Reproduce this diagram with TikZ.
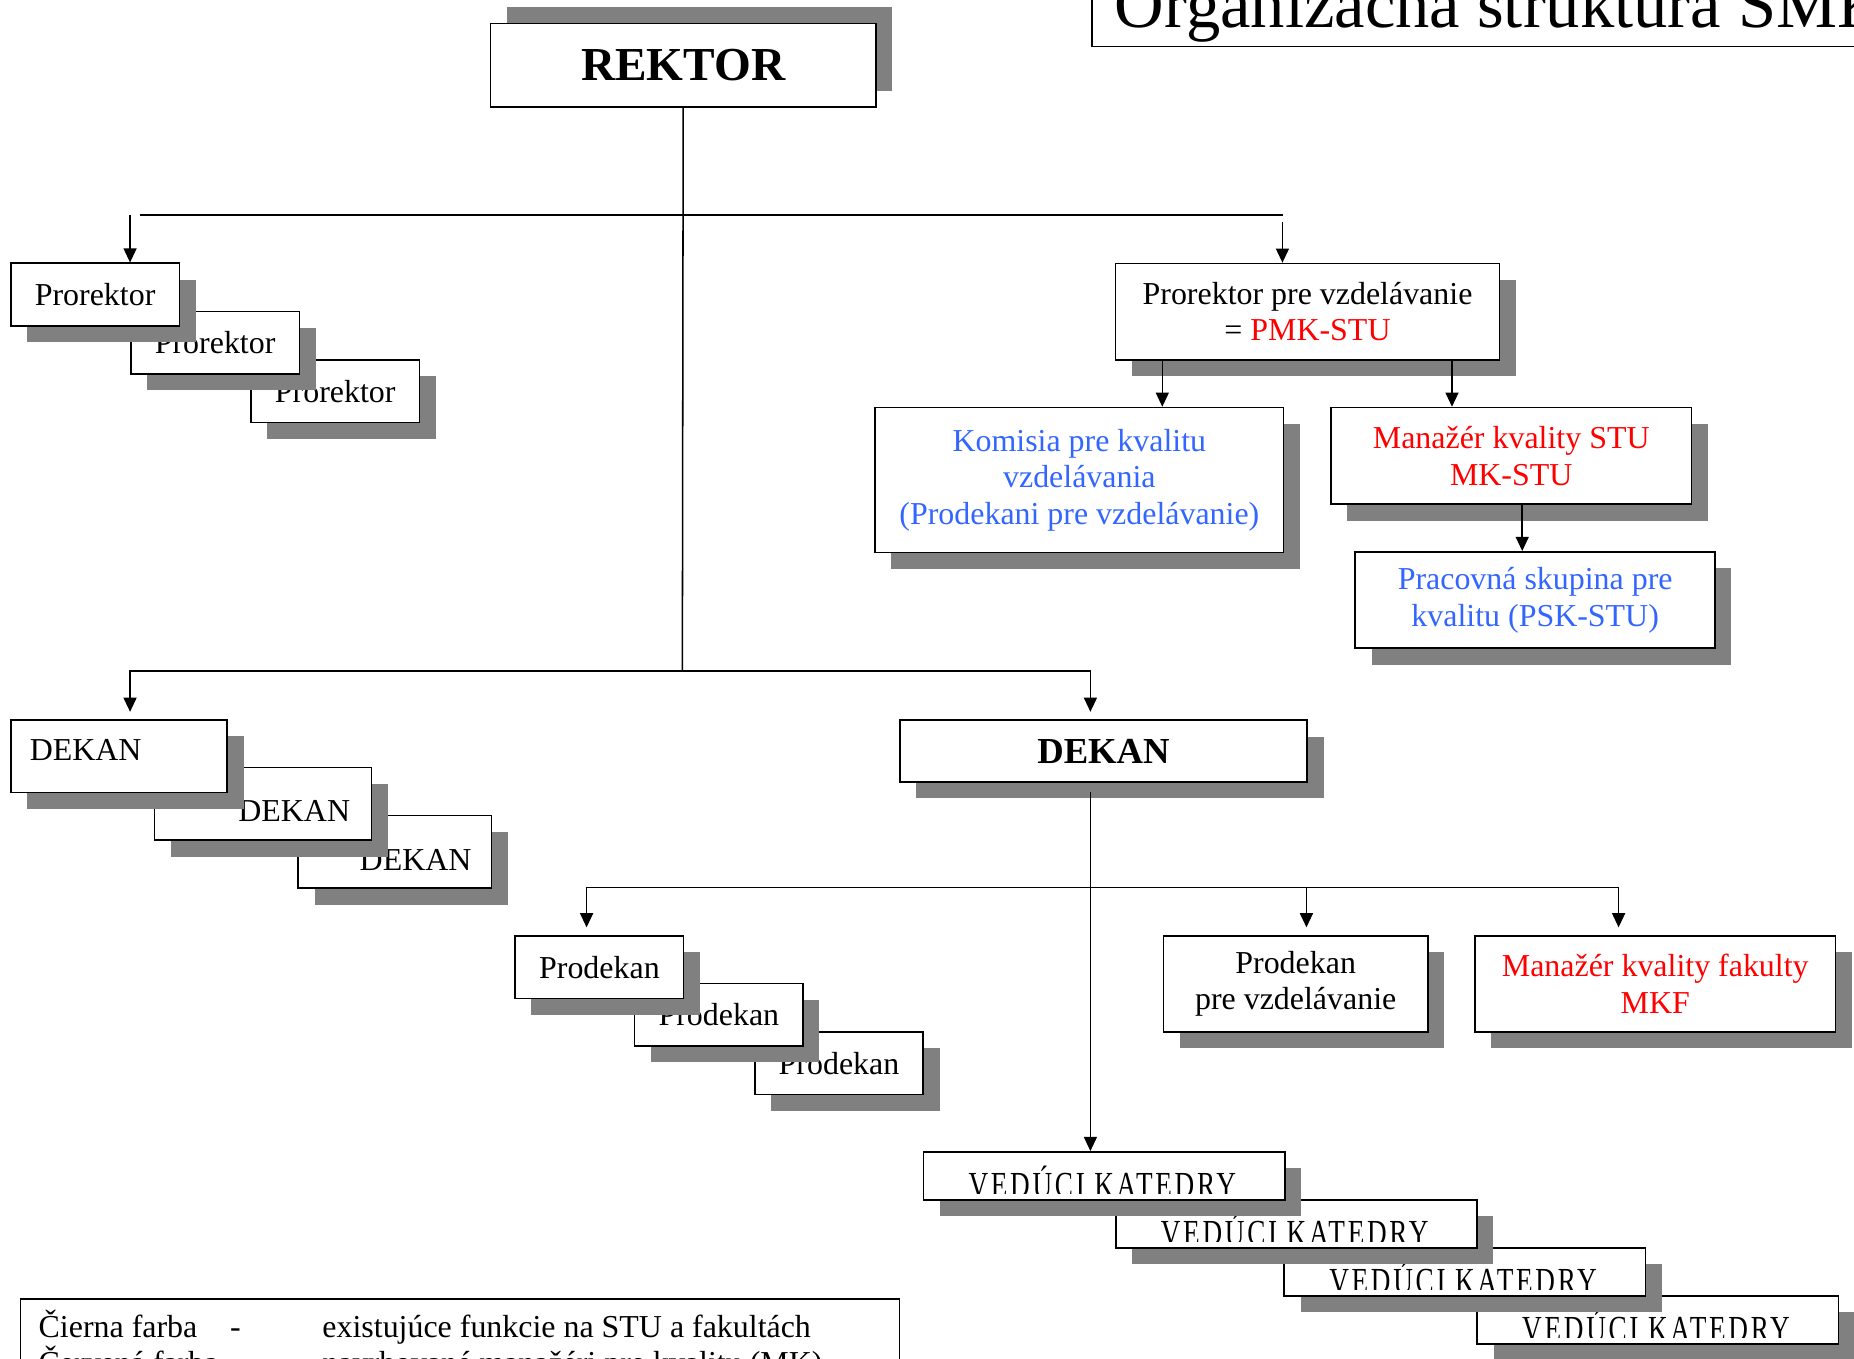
\documentclass[tikz,border=0pt]{standalone}
\usepackage{fontspec}
\setmainfont{Liberation Serif}
\newfontfamily\vkfont[LetterSpace=10]{Liberation Serif}
\usepackage{graphicx}
\usepackage{trimclip}
\usetikzlibrary{arrows.meta, shadows, calc}

\definecolor{shgray}{RGB}{128,128,128}
\definecolor{qblue}{RGB}{51,102,255}
\definecolor{qred}{RGB}{255,0,0}

\newcommand{\nfont}{\fontsize{27}{31}\selectfont}
\newcommand{\vktext}{\clipbox{0pt 3.6pt 0pt 0pt}{\scalebox{1}[1.35]{\vkfont\fontsize{23}{26}\selectfont VEDÚCI KATEDRY}}}

\begin{document}
\begin{tikzpicture}[x=1pt, y=-1pt,
	plain/.style={draw, line width=1.4pt, fill=white, inner sep=0pt, anchor=north west, align=center, font=\nfont},
	box/.style={plain, drop shadow={shadow xshift=13.8pt, shadow yshift=-13.8pt, fill=shgray, opacity=1}},
	upbox/.style={plain, drop shadow={shadow xshift=14pt, shadow yshift=13.6pt, fill=shgray, opacity=1}},
	small/.style={box, minimum width=142.5pt, minimum height=53pt},
	lbl/.style={inner sep=0pt, font=\nfont},
	conn/.style={line width=1.3pt},
	arr/.style={line width=1.3pt, -{Triangle[length=12pt, width=11pt]}}]
			\useasboundingbox (0,0) rectangle (1568,1149);
			\clip (0,0) rectangle (1568,1149);
			
			% title
			\node[draw, line width=1.4pt, anchor=south west, minimum width=800pt, minimum height=120pt] (ttl) at (922.7,40) {};
			\node[lbl, anchor=base west, font=\fontsize{58}{60}\selectfont] (ttlt) at (942.7,23) {Organizačná štruktúra SMK};
			
			% rektor
			\node[upbox, minimum width=326pt, minimum height=70.4pt, font=\fontsize{40}{44}\selectfont\bfseries] (rektor) at (414.1,19.2) {REKTOR};
			\coordinate (ubl) at (118,181.8);
			\coordinate (ubr) at (1085,181.8);
			\coordinate (lbus) at (577.1,567.5);
			\draw[conn] (ubl) -- (ubr);
			\draw[conn] (rektor.south) -- (lbus);
			
			% prorektori
			\foreach \i/\x/\y in {3/211.6/303.6, 2/110/262.7, 1/8.5/222}
			\node[small] (pr\i) at (\x,\y) {Prorektor};
			\coordinate (pa) at (110,181.8);
			\draw[arr] (pa) -- (pa |- pr1.north);
			
			% prorektor pre vzdelavanie
			\node[box, minimum width=325pt, minimum height=81.4pt] (pvz) at (942.6,222.2) {Prorektor pre vzdelávanie\\= \textcolor{qred}{PMK-STU}};
			\coordinate (pb) at (1084.6,187.5);
			\draw[arr] (pb) -- (pb |- pvz.north);
			
			\node[box, minimum width=345.5pt, minimum height=122.6pt, text=qblue] (kom) at (739.4,344) {Komisia pre kvalitu\\vzdelávania\\(Prodekani pre vzdelávanie)};
			\node[box, minimum width=305pt, minimum height=81.7pt, text=qred] (mks) at (1124.9,344) {Manažér kvality STU\\MK-STU};
			\node[box, minimum width=304.3pt, minimum height=81.5pt, text=qblue] (psk) at (1145.5,466) {Pracovná skupina pre\\kvalitu (PSK-STU)};
			\coordinate (a1) at ([xshift=40.4pt]pvz.south west);
			\coordinate (a2) at ([xshift=-41pt]pvz.south east);
			\coordinate (a3) at ([xshift=162.5pt]mks.south west);
			\draw[arr] (a1) -- (a1 |- kom.north);
			\draw[arr] (a2) -- (a2 |- mks.north);
			\draw[arr] (a3) -- (a3 |- psk.north);
			
			% dekani
			\node[box, minimum width=163.5pt, minimum height=61.5pt] (de3) at (251.6,689) {};
			\node[lbl, anchor=base east] (det3) at ([xshift=-17.6pt, yshift=-47pt]de3.north east) {DEKAN};
			\node[box, minimum width=183.5pt, minimum height=61.5pt] (de2) at (130,648.4) {};
			\node[lbl, anchor=base east] (det2) at ([xshift=-18.6pt, yshift=-46.6pt]de2.north east) {DEKAN};
			\node[box, minimum width=183pt, minimum height=61.5pt] (de1) at (8.5,608) {};
			\node[lbl, anchor=base west] (det1) at ([xshift=16.5pt, yshift=-34.8pt]de1.north west) {DEKAN};
			
			\node[box, minimum width=344.7pt, minimum height=52pt, font=\fontsize{31}{35}\selectfont\bfseries] (dekan) at (760.2,608.4) {DEKAN};
			\coordinate (dlt) at ([xshift=101.5pt, yshift=6pt]de1.north west);
			\coordinate (drt) at ([xshift=162pt, yshift=6.4pt]dekan.north west);
			\draw[arr] (lbus) -| (dlt);
			\draw[arr] (lbus) -| (drt);
			
			% prodekani
			\foreach \i/\x/\y in {3/637.6/872, 2/536/831, 1/435/790.8}
			\node[small] (pd\i) at (\x,\y) {Prodekan};
			\node[box, minimum width=223.4pt, minimum height=81.2pt] (pvf) at (983.4,790.8) {Prodekan\\pre vzdelávanie};
			\node[box, minimum width=304.6pt, minimum height=81.2pt, text=qred] (mkf) at (1246.9,790.8) {Manažér kvality fakulty\\MKF};
			\coordinate (rbus) at (922.2,750.5);
			\coordinate (pdt) at ([xshift=61.1pt, yshift=6.5pt]pd1.north west);
			\coordinate (pvt) at ([xshift=121.5pt, yshift=6.5pt]pvf.north west);
			\coordinate (mkt) at ([xshift=122pt, yshift=6.5pt]mkf.north west);
			\draw[arr] (rbus) -| (pdt);
			\draw[arr] (rbus) -| (mkt);
			\draw[arr] (pvt |- rbus) -- (pvt);
			
			% veduci katedry
			\foreach \i/\x/\y in {4/1248.6/1095.3, 3/1085.4/1054.7, 2/943/1014, 1/780.3/973.5}{
				\node[box, minimum width=305.5pt, minimum height=40.7pt] (vk\i) at (\x,\y) {};
				\node[lbl, anchor=base] (vkt\i) at ([xshift=-1.5pt, yshift=-36pt]vk\i.north) {\vktext};
			}
			\coordinate (dv) at ([xshift=162pt, yshift=-8pt]dekan.south west);
			\draw[arr] (dv) -- (dv |- vk1.north);
			
			% legenda
			\node[draw, line width=1.4pt, anchor=north west, minimum width=743.5pt, minimum height=120pt] (leg) at (16.5,1098) {};
			\node[lbl, anchor=base west] (lg1) at ([xshift=16pt, yshift=-33pt]leg.north west) {Čierna farba};
			\node[lbl, anchor=base west] (lg2) at ([xshift=178pt, yshift=-33pt]leg.north west) {-};
			\node[lbl, anchor=base west] (lg3) at ([xshift=256pt, yshift=-33pt]leg.north west) {existujúce funkcie na STU a fakultách};
			\node[lbl, anchor=base west] (lg4) at ([xshift=16pt, yshift=-64pt]leg.north west) {Červená farba};
			\node[lbl, anchor=base west] (lg5) at ([xshift=178pt, yshift=-64pt]leg.north west) {-};
			\node[lbl, anchor=base west] (lg6) at ([xshift=256pt, yshift=-64pt]leg.north west) {navrhované manažéri pre kvalitu (MK)};
\end{tikzpicture}
\end{document}
